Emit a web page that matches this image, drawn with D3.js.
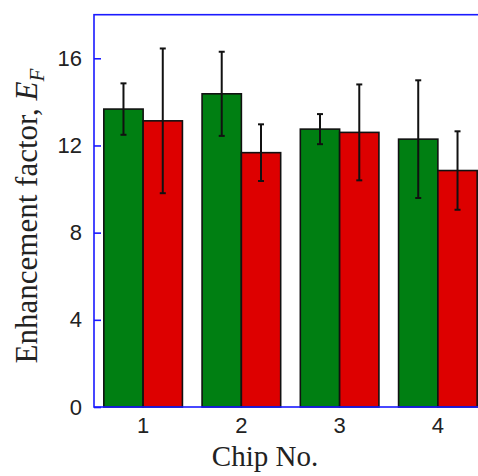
<!DOCTYPE html>
<html>
<head>
<meta charset="utf-8">
<script src="https://cdn.jsdelivr.net/npm/d3@7"></script>
<style>
  body { margin: 0; background: #fff; }
  svg { display: block; }
</style>
</head>
<body>
<script>
"use strict";
// chip numbers, two series per chip
const chips = ["1", "2", "3", "4"];
const greenValues = [13.67, 14.37, 12.75, 12.29];
const greenErrors = [1.18, 1.93, 0.69, 2.7];
const redValues = [13.13, 11.67, 12.6, 10.85];
const redErrors = [3.32, 1.3, 2.2, 1.8];
const yTicks = [0, 4, 8, 12, 16];

function app() {
	const w = 478;
	const h = 476;
	const left = 94, top = 14.7, bottom = 407, right = 487;

	const svg = d3.select("body").append("svg").attr("width", w).attr("height", h);

	const x0 = d3.scaleBand().domain(chips).range([left, right]).paddingInner(0.2).paddingOuter(0.1);
	const x1 = d3.scaleBand().domain(["green", "red"]).range([0, x0.bandwidth()]);
	const y = d3.scaleLinear().domain([0, 18]).range([bottom, top]);

	const rows = chips.map((c, i) => [
		{ chip: c, key: "green", v: greenValues[i], e: greenErrors[i], fill: "#007f12" },
		{ chip: c, key: "red", v: redValues[i], e: redErrors[i], fill: "#dd0000" }
	]).flat();

	svg.selectAll("rect.bar").data(rows).enter().append("rect")
		.attr("class", "bar")
		.attr("x", d => x0(d.chip) + x1(d.key))
		.attr("y", d => y(d.v))
		.attr("width", x1.bandwidth())
		.attr("height", d => y(0) - y(d.v))
		.attr("fill", d => d.fill)
		.attr("stroke", "#111")
		.attr("stroke-width", 1.6);

	const err = svg.append("g").attr("stroke", "#111").attr("stroke-width", 2);
	rows.forEach(d => {
		const cx = x0(d.chip) + x1(d.key) + x1.bandwidth() / 2;
		err.append("line").attr("x1", cx).attr("x2", cx).attr("y1", y(d.v + d.e)).attr("y2", y(d.v - d.e));
		err.append("line").attr("x1", cx - 3).attr("x2", cx + 3).attr("y1", y(d.v + d.e)).attr("y2", y(d.v + d.e));
		err.append("line").attr("x1", cx - 3).attr("x2", cx + 3).attr("y1", y(d.v - d.e)).attr("y2", y(d.v - d.e));
	});

	// frame
	svg.append("rect").attr("x", left).attr("y", top).attr("width", right - left).attr("height", bottom - top)
		.attr("fill", "none").attr("stroke", "#1a1aff").attr("stroke-width", 1.6);

	const yAxis = d3.axisRight(y).tickValues(yTicks).tickSize(7).tickFormat(d3.format("d"));
	const gy = svg.append("g").attr("transform", "translate(" + left + ",0)").call(yAxis);
	gy.select(".domain").remove();
	gy.selectAll(".tick line").attr("stroke", "#1a1aff").attr("stroke-width", 1.6);
	gy.selectAll(".tick text").attr("x", -12).attr("text-anchor", "end")
		.attr("font-family", "Liberation Sans, Arial, sans-serif").attr("font-size", 22).attr("fill", "#222");

	const xAxis = d3.axisBottom(x0).tickSize(0).tickPadding(10);
	const gx = svg.append("g").attr("transform", "translate(0," + bottom + ")").call(xAxis);
	gx.select(".domain").remove();
	gx.selectAll(".tick text").attr("font-family", "Liberation Sans, Arial, sans-serif").attr("font-size", 22).attr("fill", "#222");

	svg.append("text").attr("x", 265).attr("y", 466).attr("text-anchor", "middle")
		.attr("font-family", "Liberation Serif, Times New Roman, serif").attr("font-size", 29).attr("fill", "#222")
		.text("Chip No.");

	const yl = svg.append("text").attr("transform", "translate(37,216) rotate(-90)").attr("text-anchor", "middle")
		.attr("font-family", "Liberation Serif, Times New Roman, serif").attr("font-size", 31).attr("fill", "#222");
	yl.append("tspan").text("Enhancement factor, ");
	yl.append("tspan").attr("font-style", "italic").text("E");
	yl.append("tspan").attr("font-style", "italic").attr("font-size", 21).attr("dy", 7).text("F");
}

app();
</script>
</body>
</html>
